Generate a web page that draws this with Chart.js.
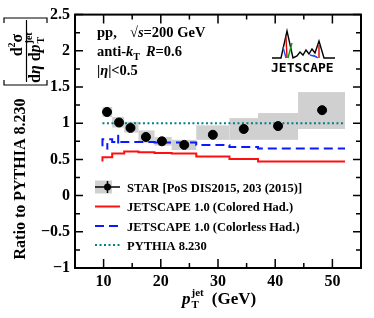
<!DOCTYPE html>
<html>
<head>
<meta charset="utf-8">
<script src="https://cdn.jsdelivr.net/npm/chart.js@4.4.0/dist/chart.umd.min.js"></script>
<style>
  html, body { margin: 0; padding: 0; background: #fff; }
</style>
</head>
<body>
<canvas id="ratioChart" width="374" height="318"></canvas>
<script>
// bin edges of the pT^jet bins (GeV)
const binEdges = [9.8, 11.5, 13.6, 16.1, 18.9, 21.9, 26.2, 32.0, 37.0, 44.0, 52.2];

// STAR data, ratio to PYTHIA
const starPt = [10.6, 12.7, 14.7, 17.4, 20.2, 24.1, 29.1, 34.5, 40.5, 48.2];
const starRatio = [1.155, 1.01, 0.935, 0.81, 0.75, 0.70, 0.84, 0.92, 0.96, 1.18];
const starStat = [0.04, 0.02, 0.02, 0.02, 0.02, 0.02, 0.02, 0.02, 0.03, 0.05];
const starSysLo = [1.085, 0.94, 0.87, 0.73, 0.69, 0.63, 0.77, 0.77, 0.77, 0.92];
const starSysHi = [1.225, 1.085, 1.02, 0.90, 0.81, 0.77, 0.97, 1.07, 1.14, 1.43];

// JETSCAPE predictions
const coloredRatio = [0.47, 0.53, 0.58, 0.61, 0.60, 0.59, 0.58, 0.54, 0.505, 0.47];
const colorlessRatio = [0.68, 0.78, 0.74, 0.74, 0.74, 0.735, 0.735, 0.70, 0.67, 0.65];
const colorlessErr = [0.045, 0.06, 0, 0, 0, 0, 0, 0, 0, 0];

// PYTHIA reference
const pythiaRatio = [1, 1];

const legendLabels = [
  "STAR [PoS DIS2015, 203 (2015)]",
  "JETSCAPE 1.0 (Colored Had.)",
  "JETSCAPE 1.0 (Colorless Had.)",
  "PYTHIA 8.230"
];

const SERIF = '"Liberation Serif", "Times New Roman", serif';
const GRAY = "#d0d0d0";

function stepData(vals) {
  return binEdges.map((e, i) => ({ x: e, y: vals[Math.min(i, vals.length - 1)] }));
}

function isHalf(v) {
  return Math.abs(v * 2 - Math.round(v * 2)) < 1e-6;
}

// text runs drawn one after another
function runsWidth(ctx, runs) {
  let w = 0;
  runs.forEach(r => { ctx.font = r.f; if (!r.keep) w += ctx.measureText(r.t).width + (r.gap || 0); });
  return w;
}
function drawRuns(ctx, runs, x, y) {
  runs.forEach(r => {
    ctx.font = r.f;
    ctx.fillText(r.t, x, y + (r.dy || 0));
    if (!r.keep) x += ctx.measureText(r.t).width + (r.gap || 0);
  });
}

// systematic boxes for STAR
const sysBoxes = {
  id: "sysBoxes",
  beforeDatasetsDraw(chart) {
    const { ctx, scales: { x, y } } = chart;
    ctx.save();
    ctx.fillStyle = GRAY;
    starPt.forEach((p, i) => {
      const x0 = x.getPixelForValue(binEdges[i]);
      const x1 = x.getPixelForValue(binEdges[i + 1]);
      const y0 = y.getPixelForValue(starSysHi[i]);
      const y1 = y.getPixelForValue(starSysLo[i]);
      ctx.fillRect(x0, y0, x1 - x0, y1 - y0);
    });
    ctx.restore();
  }
};

// error bars, frame with inner ticks, legend and texts
const decorations = {
  id: "decorations",
  afterDatasetsDraw(chart) {
    const { ctx, chartArea: a, scales: { x, y } } = chart;
    ctx.save();

    // STAR stat errors
    ctx.strokeStyle = "#000";
    ctx.lineWidth = 2;
    starPt.forEach((p, i) => {
      const px = x.getPixelForValue(p);
      ctx.beginPath();
      ctx.moveTo(px, y.getPixelForValue(starRatio[i] + starStat[i]));
      ctx.lineTo(px, y.getPixelForValue(starRatio[i] - starStat[i]));
      ctx.stroke();
    });

    // colorless error ticks
    ctx.strokeStyle = "#0a1aff";
    colorlessErr.forEach((e, i) => {
      if (!e) return;
      const px = x.getPixelForValue((binEdges[i] + binEdges[i + 1]) / 2);
      ctx.beginPath();
      ctx.moveTo(px, y.getPixelForValue(colorlessRatio[i] + e));
      ctx.lineTo(px, y.getPixelForValue(colorlessRatio[i] - e));
      ctx.stroke();
    });

    // ticks pointing inwards
    ctx.strokeStyle = "#000";
    ctx.lineWidth = 1.5;
    x.ticks.forEach(t => {
      const px = x.getPixelForValue(t.value);
      const len = t.value % 10 === 0 ? 9 : 5;
      ctx.beginPath();
      ctx.moveTo(px, a.bottom); ctx.lineTo(px, a.bottom - len);
      ctx.moveTo(px, a.top); ctx.lineTo(px, a.top + len);
      ctx.stroke();
    });
    y.ticks.forEach(t => {
      const py = y.getPixelForValue(t.value);
      const len = isHalf(t.value) ? 8 : 5;
      ctx.beginPath();
      ctx.moveTo(a.left, py); ctx.lineTo(a.left + len, py);
      ctx.moveTo(a.right, py); ctx.lineTo(a.right - len, py);
      ctx.stroke();
    });
    ctx.lineWidth = 2;
    ctx.strokeRect(a.left, a.top, a.right - a.left, a.bottom - a.top);

    // legend
    const lx = 95, tx = 127;
    const rows = [187, 206.5, 226, 245];
    ctx.fillStyle = GRAY;
    ctx.fillRect(lx, rows[0] - 6.5, 17, 13);
    ctx.strokeStyle = "#000";
    ctx.lineWidth = 1.5;
    ctx.beginPath();
    ctx.moveTo(lx, rows[0]); ctx.lineTo(lx + 25, rows[0]);
    ctx.moveTo(lx + 12.5, rows[0] - 6); ctx.lineTo(lx + 12.5, rows[0] + 6);
    ctx.stroke();
    ctx.fillStyle = "#000";
    ctx.beginPath(); ctx.arc(lx + 12.5, rows[0], 3.5, 0, Math.PI * 2); ctx.fill();

    const ds = chart.data.datasets;
    [1, 2, 3].forEach((d, k) => {
      ctx.strokeStyle = ds[d].borderColor;
      ctx.lineWidth = ds[d].borderWidth;
      ctx.setLineDash(ds[d].borderDash || []);
      ctx.beginPath();
      ctx.moveTo(lx, rows[k + 1]); ctx.lineTo(lx + 25, rows[k + 1]);
      ctx.stroke();
    });
    ctx.setLineDash([]);
    ctx.fillStyle = "#000";
    ctx.textBaseline = "alphabetic";
    ctx.font = "bold 12.5px " + SERIF;
    legendLabels.forEach((s, k) => ctx.fillText(s, tx, rows[k] + 4.5));

    // annotations
    const B = "bold 14.5px " + SERIF, BI = "italic bold 14.5px " + SERIF, S = "bold 10px " + SERIF;
    drawRuns(ctx, [{ t: "pp,  ", f: B, gap: 6 }, { t: "\u221A", f: B }, { t: "s", f: BI }, { t: "=200 GeV", f: B }], 97, 37);
    drawRuns(ctx, [{ t: "anti-", f: B }, { t: "k", f: BI }, { t: "T", f: S, dy: 4, gap: 6 }, { t: "R", f: BI }, { t: "=0.6", f: B }], 97, 56);
    drawRuns(ctx, [{ t: "|", f: B }, { t: "\u03B7", f: BI }, { t: "|<0.5", f: B }], 97, 75);

    // JETSCAPE logo
    ctx.strokeStyle = "#000";
    ctx.lineWidth = 1.4;
    ctx.beginPath();
    [[272, 58], [281, 58], [287, 31], [293, 58], [297, 56], [300, 52], [303, 55], [306, 50], [309, 54], [312, 49], [315, 53], [319, 41], [324, 58], [335, 58]]
      .forEach((p, i) => i ? ctx.lineTo(p[0], p[1]) : ctx.moveTo(p[0], p[1]));
    ctx.stroke();
    ctx.strokeStyle = "#e00000"; ctx.beginPath(); ctx.moveTo(286, 37); ctx.lineTo(287, 58); ctx.moveTo(319, 45); ctx.lineTo(319, 58); ctx.stroke();
    ctx.strokeStyle = "#00a000"; ctx.beginPath(); ctx.moveTo(288, 58); ctx.lineTo(292, 43); ctx.moveTo(313, 55); ctx.lineTo(318, 58); ctx.stroke();
    ctx.strokeStyle = "#2050ff"; ctx.beginPath(); ctx.moveTo(283, 47); ctx.lineTo(286, 58); ctx.moveTo(310, 55); ctx.lineTo(317, 57); ctx.stroke();
    ctx.fillStyle = "#000";
    ctx.font = "bold 13px \"DejaVu Sans Mono\", monospace";
    ctx.fillText("JETSCAPE", 271, 72);

    // x title
    const XB = "bold 17px " + SERIF, XBI = "italic bold 17px " + SERIF, XS = "bold 11px " + SERIF;
    drawRuns(ctx, [{ t: "p", f: XBI, gap: 1 }, { t: "jet", f: XS, dy: -8, keep: true }, { t: "T", f: XS, dy: 4, gap: 13 }, { t: "(GeV)", f: XB }], 182, 304);

    // y title, rotated
    ctx.rotate(-Math.PI / 2);
    ctx.font = "bold 16px " + SERIF;
    ctx.textAlign = "center";
    ctx.fillText("Ratio to PYTHIA 8.230", -179, 25);
    ctx.textAlign = "left";
    const num = [{ t: "d", f: "bold 16px " + SERIF }, { t: "2", f: "bold 10px " + SERIF, dy: -7 }, { t: "\u03C3", f: "bold 16px " + SERIF }];
    drawRuns(ctx, num, -45 - runsWidth(ctx, num) / 2, 21.5);
    const den = [{ t: "d", f: "bold 16px " + SERIF }, { t: "\u03B7", f: "italic bold 16px " + SERIF, gap: 4 }, { t: "d", f: "bold 16px " + SERIF },
      { t: "p", f: "italic bold 16px " + SERIF, gap: 1 }, { t: "jet", f: "bold 10px " + SERIF, dy: -8, keep: true }, { t: "T", f: "bold 10px " + SERIF, dy: 4 }];
    drawRuns(ctx, den, -83, 40);
    ctx.lineWidth = 1.2;
    ctx.strokeStyle = "#000";
    ctx.beginPath();
    ctx.moveTo(-82, 26.5); ctx.lineTo(-20, 26.5);
    // brackets
    ctx.moveTo(-80, 4); ctx.lineTo(-85, 4); ctx.lineTo(-85, 47); ctx.lineTo(-80, 47);
    ctx.moveTo(-23, 4); ctx.lineTo(-18, 4); ctx.lineTo(-18, 47); ctx.lineTo(-23, 47);
    ctx.stroke();

    ctx.restore();
  }
};

const ctx = document.getElementById("ratioChart").getContext("2d");
new Chart(ctx, {
  type: "line",
  data: {
    datasets: [
      {
        label: legendLabels[0],
        type: "scatter",
        data: starPt.map((p, i) => ({ x: p, y: starRatio[i] })),
        backgroundColor: "#000",
        borderColor: "#000",
        pointRadius: 4.5,
        order: 0
      },
      {
        label: legendLabels[1],
        data: stepData(coloredRatio),
        stepped: "after",
        borderColor: "#ff1010",
        borderWidth: 2,
        pointRadius: 0,
        fill: false,
        order: 3
      },
      {
        label: legendLabels[2],
        data: stepData(colorlessRatio),
        stepped: "after",
        borderColor: "#0a1aff",
        borderWidth: 2,
        borderDash: [9, 5],
        pointRadius: 0,
        fill: false,
        order: 2
      },
      {
        label: legendLabels[3],
        data: pythiaRatio.map((v, i) => ({ x: binEdges[i ? binEdges.length - 1 : 0], y: v })),
        borderColor: "#008080",
        borderWidth: 2,
        borderDash: [2, 2.5],
        pointRadius: 0,
        fill: false,
        order: 1
      }
    ]
  },
  options: {
    responsive: false,
    animation: false,
    devicePixelRatio: 1,
    layout: { padding: { top: 13, right: 13, left: 0, bottom: 0 } },
    plugins: { legend: { display: false }, tooltip: { enabled: false } },
    scales: {
      x: {
        type: "linear",
        min: 5,
        max: 55,
        afterFit: (s) => { s.height = 50; },
        grid: { drawOnChartArea: false, drawTicks: false },
        border: { display: false },
        ticks: {
          stepSize: 5,
          autoSkip: false,
          maxRotation: 0,
          padding: 4,
          color: "#000",
          font: { family: SERIF, size: 16, weight: "bold" },
          callback: (v) => (v % 10 === 0 ? String(v) : "")
        }
      },
      y: {
        min: -1,
        max: 2.5,
        afterFit: (s) => { s.width = 75; },
        grid: { drawOnChartArea: false, drawTicks: false },
        border: { display: false },
        ticks: {
          stepSize: 0.25,
          autoSkip: false,
          padding: 5,
          color: "#000",
          font: { family: SERIF, size: 16, weight: "bold" },
          callback: (v) => (isHalf(v) ? (v < 0 ? "\u2212" + Math.abs(v) : String(v)) : "")
        }
      }
    }
  },
  plugins: [sysBoxes, decorations]
});
</script>
</body>
</html>
